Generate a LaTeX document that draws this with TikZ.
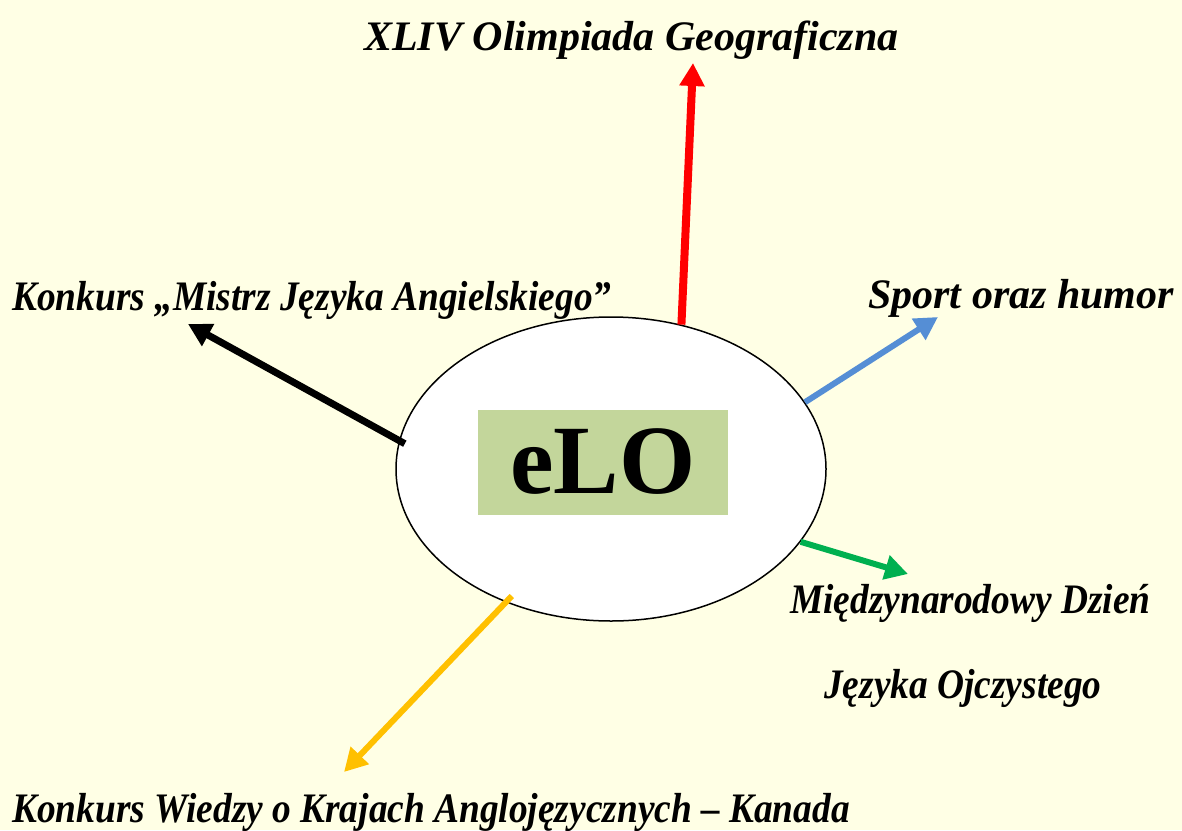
\documentclass[tikz,border=0pt]{standalone}
\usepackage{fontspec}
\setmainfont{Liberation Serif}
\newfontfamily\narrowserif[FakeStretch=0.89]{Liberation Serif}
\usetikzlibrary{arrows.meta, positioning, shapes.geometric, calc}
\definecolor{paper}{RGB}{255,255,229}
\definecolor{logogreen}{RGB}{195,214,155}
\definecolor{skyblue}{RGB}{85,142,213}
\definecolor{leafgreen}{RGB}{0,176,80}
\definecolor{amber}{RGB}{255,192,0}

\tikzset{
  topic/.style={font=\fontsize{42}{48}\selectfont\bfseries\itshape, inner sep=0pt, anchor=base west},
  narrowtopic/.style={topic, font=\narrowserif\fontsize{42}{48}\selectfont\bfseries\itshape},
  link/.style={line width=#1, -{Triangle[length=23pt,width=24pt]}},
  link/.default=6pt
}

\begin{document}
\begin{tikzpicture}[x=1pt, y=-1pt]
	% Background
	\fill[paper] (0,0) rectangle (1182,830);
	\useasboundingbox (0,0) rectangle (1182,830);
	
	% Centre
	\node[ellipse, draw, line width=1.5pt, fill=white, minimum width=430pt, minimum height=304pt, inner sep=0pt] (elo) at (611,469) {};
	\node[fill=logogreen, minimum width=250pt, minimum height=105pt, inner sep=0pt, font=\fontsize{98}{100}\selectfont\bfseries] (logo) at (603,462) {eLO};
	
	% Topics
	\node[topic] (olimpiada) at (364,50) {XLIV Olimpiada Geograficzna};
	\node[narrowtopic] (mistrz) at (12,310) {Konkurs „Mistrz Języka Angielskiego”};
	\node[topic] (sport) at (868,308) {Sport oraz humor};
	\node[narrowtopic] (dzien) at (790,613) {Międzynarodowy Dzień};
	\node[narrowtopic] (jezyk) at (824,698) {Języka Ojczystego};
	\node[narrowtopic] (kanada) at (12,822) {Konkurs Wiedzy o Krajach Anglojęzycznych – Kanada};
	
	% Arrow tips
	\coordinate (redtip) at (693,63);
	\coordinate (blacktip) at (188,324);
	\coordinate (bluetip) at (938,317);
	\coordinate (greentip) at (908,574);
	\coordinate (ambertip) at (344,772);
	
	% Arrows
	\draw[link=8pt, red] (elo.64) -- (redtip);
	\draw[link=7pt, black] ($(elo.center)!0.97!(elo.173)$) -- (blacktip);
	\draw[link, skyblue] (elo.19) -- (bluetip);
	\draw[link, leafgreen] (elo.-21) -- (greentip);
	\draw[link, amber] ($(elo.center)!0.95!(elo.232)$) -- (ambertip);
\end{tikzpicture}
\end{document}
